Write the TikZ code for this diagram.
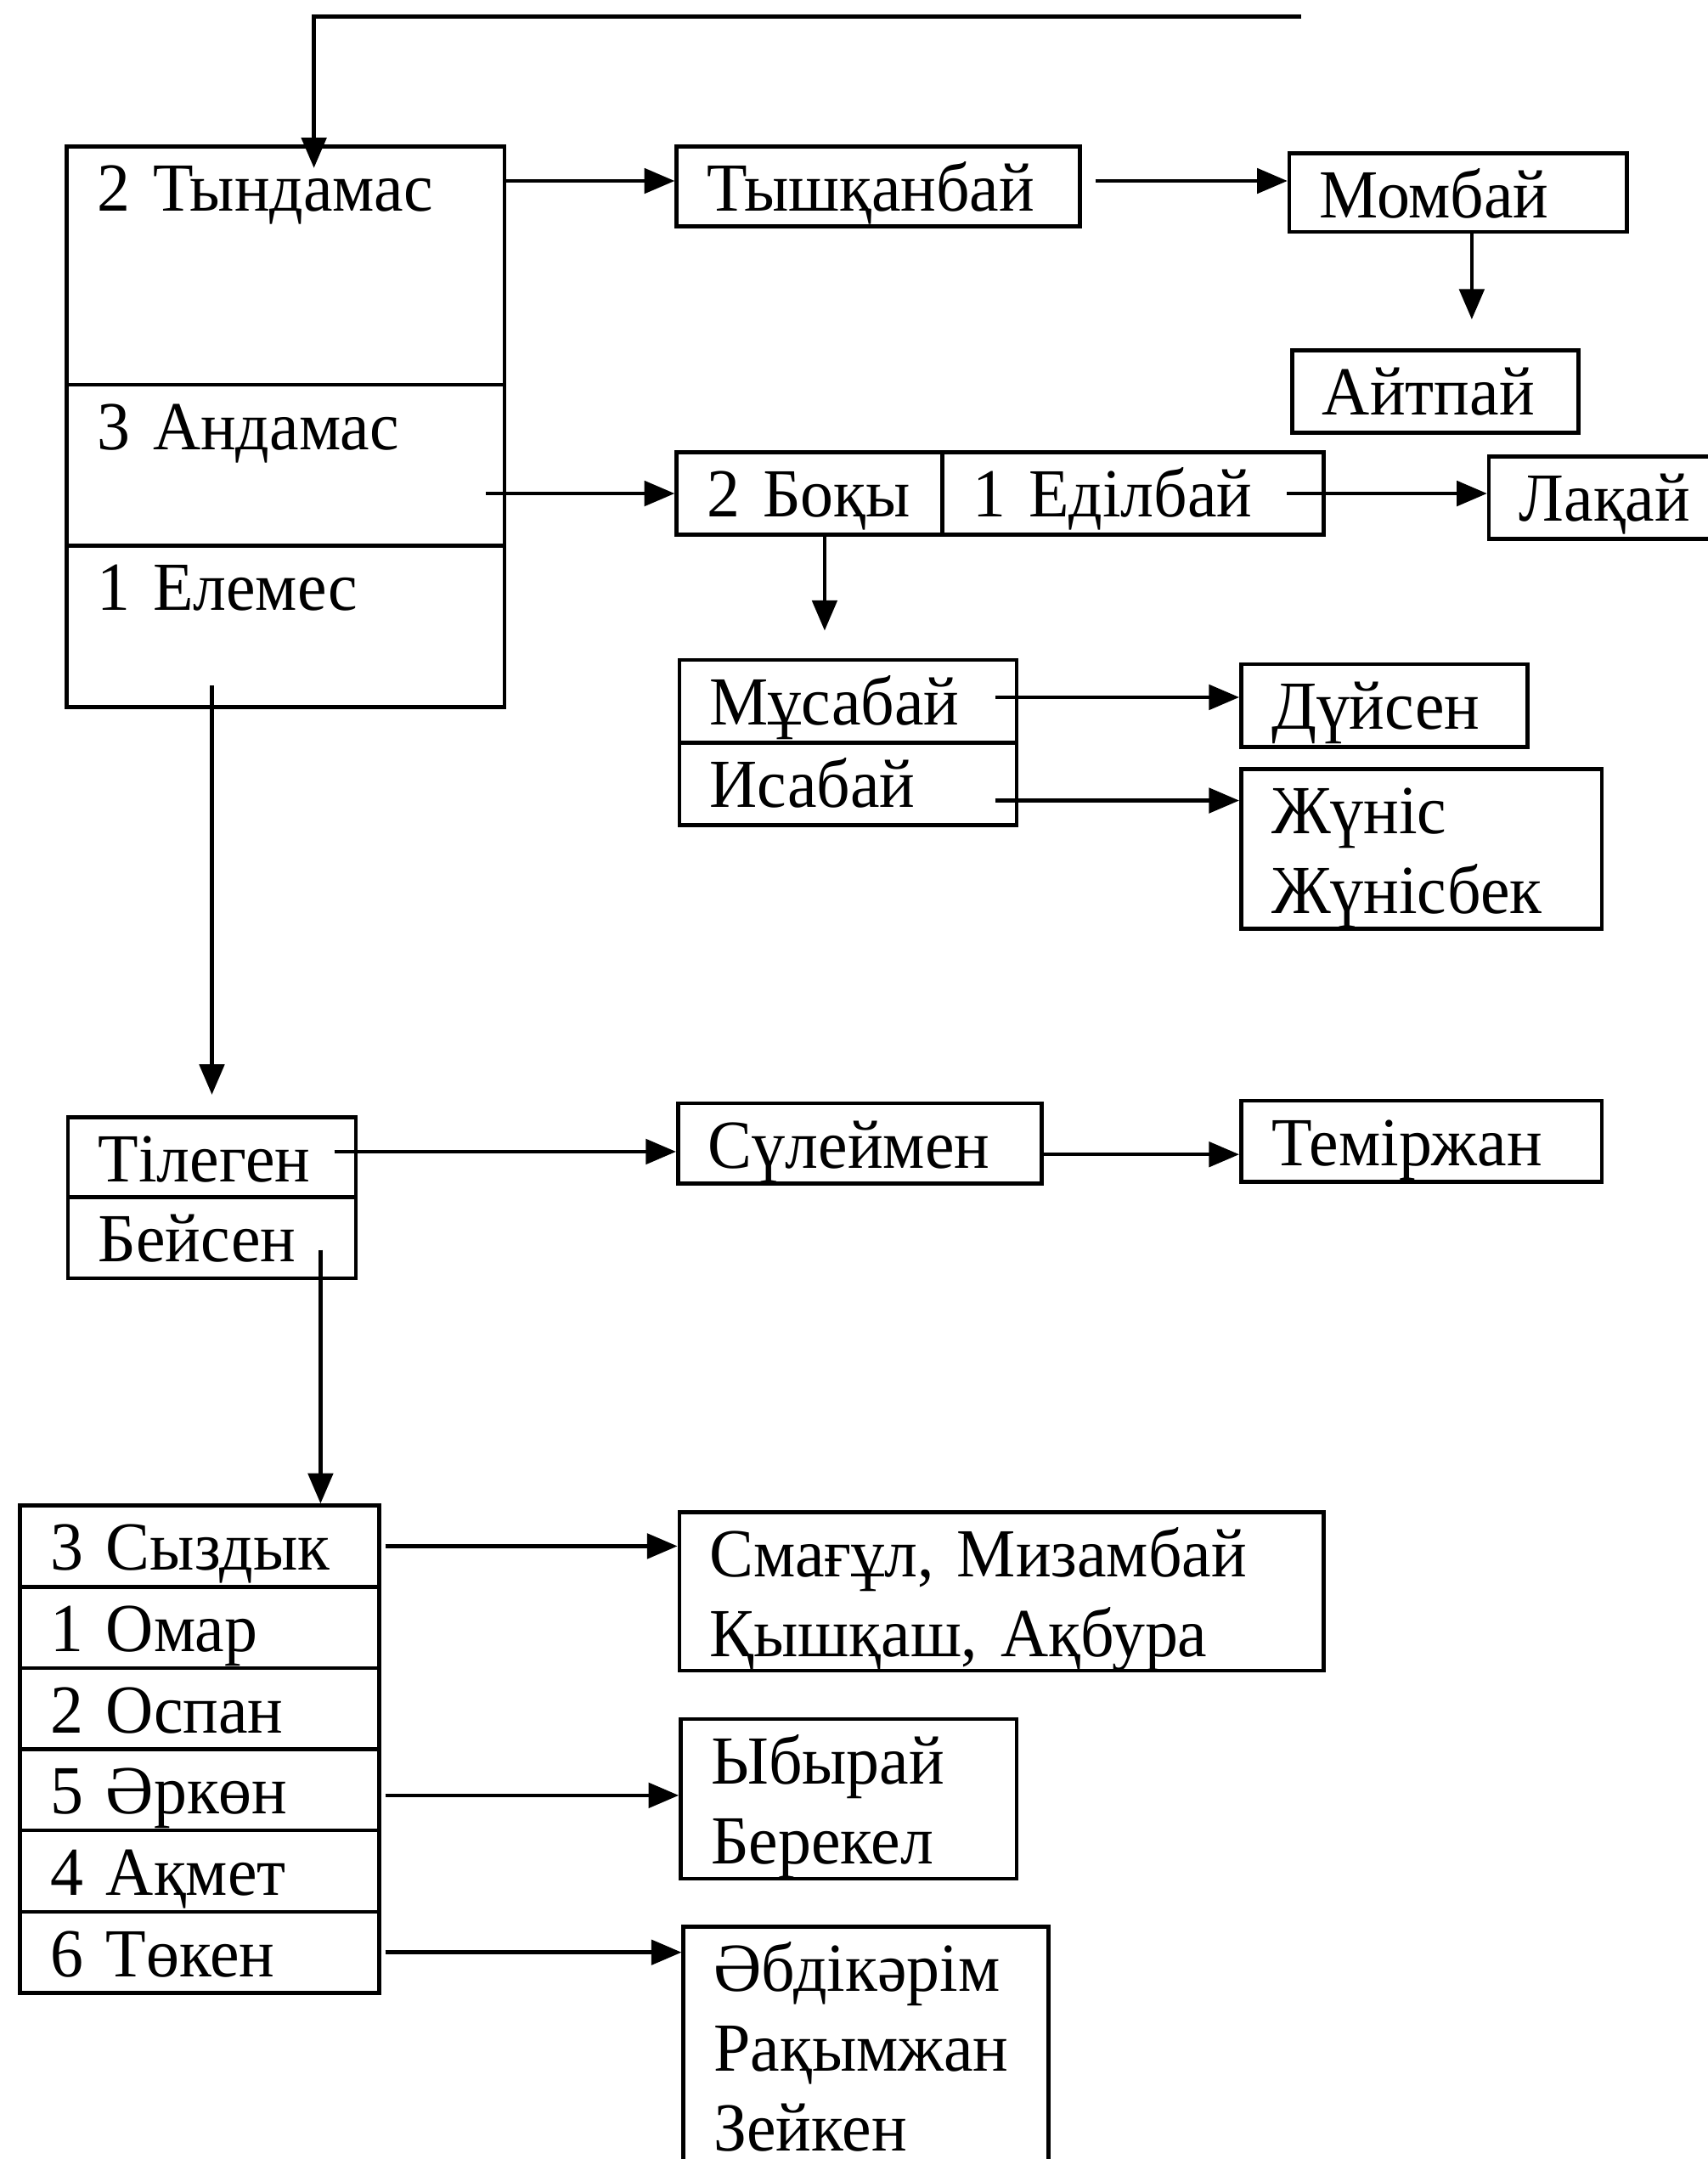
\documentclass[tikz,border=0pt]{standalone}
\usepackage{fontspec}
\setmainfont{Liberation Serif}[FakeStretch=0.96]
\usetikzlibrary{arrows.meta}

\newcommand{\namefont}{\fontsize{50}{58}\selectfont}

\tikzset{
  namebox/.style={draw, line width=2.8pt, anchor=north west, inner xsep=22pt,
    inner ysep=0pt, text height=47pt, font=\namefont, align=left},
}

\begin{document}
\begin{tikzpicture}[x=1pt, y=-1pt, line width=2.8pt, >={Triangle[length=22pt,width=18pt]}]
    \useasboundingbox (0,0) rectangle (1240,1568);

    % first generation
    \node[namebox, text width=274pt, text depth=126pt] (tyn) at (47,105) {2 Тындамас};
    \node[namebox, text width=274pt, text depth=70pt] (and) at (47,278) {3 Андамас};
    \node[namebox, text width=274pt, text depth=70pt] (ele) at (47,395) {1 Елемес};

    \coordinate (topR) at (945,12);
    \coordinate (topL) at (228,12);
    \draw[->, shorten >=-17pt] (topR) -- (topL) -- (topL |- tyn.north);

    % Тындамас line
    \node[namebox, text width=249pt, text depth=11pt] (tysh) at (490,105) {Тышқанбай};
    \node[namebox, text width=201pt, text depth=10pt] (momb) at (935,110) {Момбай};
    \node[namebox, text width=164pt, text depth=13pt] (aitp) at (937,253) {Айтпай};

    \draw[->] ([yshift=4pt]tyn.east |- tysh.west) -- ([yshift=4pt]tysh.west);
    \draw[->] ([xshift=10pt,yshift=4pt]tysh.east) -- ([yshift=4pt]tysh.east -| momb.west);
    \draw[->, shorten >=21pt] ([xshift=10pt]momb.south) -- ([xshift=10pt]momb.south |- aitp.north);

    % Андамас line
    \node[namebox, text width=149pt, text depth=13pt] (boky) at (490,327) {2~Боқы};
    \node[namebox, text width=233pt, text depth=13pt] (edil) at (683,327) {1 Еділбай};
    \node[namebox, text width=136pt, text depth=13pt] (lakai) at (1080,330) {Лақай};

    \draw[->] ([xshift=-15pt]and.east |- boky.west) -- (boky.west);
    \draw[->] ([xshift=-28pt]edil.east) -- (edil.east -| lakai.west);

    \node[namebox, text width=201pt, text depth=13pt] (musa) at (492,478) {Мұсабай};
    \node[namebox, text width=201pt, text depth=13pt] (isa) at (492,538) {Исабай};
    \node[namebox, text width=164pt, text depth=13pt] (duis) at (900,481) {Дүйсен};
    \node[namebox, text width=218pt, text depth=69pt] (zhun) at (900,557) {Жүніс\\Жүнісбек};

    \draw[->, shorten >=20pt] ([xshift=11pt]boky.south) -- ([xshift=11pt]boky.south |- musa.north);
    \draw[->] ([xshift=-17pt,yshift=3pt]musa.east) -- ([yshift=3pt]musa.east -| duis.west);
    \draw[->] ([xshift=-17pt,yshift=-12pt]isa.east) -- ([yshift=-12pt]isa.east -| zhun.west);

    % Елемес line
    \node[namebox, text width=165pt, text depth=11pt] (tileg) at (48,810) {Тілеген};
    \node[namebox, text width=165pt, text depth=12pt] (beis) at (48,868) {Бейсен};
    \node[namebox, text width=220pt, text depth=11pt] (sulei) at (491,800) {Сүлеймен};
    \node[namebox, text width=218pt, text depth=12pt] (temir) at (900,798) {Теміржан};

    \draw[->, shorten >=15pt] ([yshift=17pt]ele.south -| tileg.north) -- (tileg.north);
    \draw[->] ([xshift=-17pt,yshift=4pt]tileg.east) -- ([yshift=4pt]tileg.east -| sulei.west);
    \draw[->] ([yshift=-8pt]sulei.east) -- ([yshift=-8pt]sulei.east -| temir.west);

    % Бейсен's sons
    \node[namebox, text width=217pt, text depth=12pt] (syz) at (13,1092) {3 Сыздык};
    \node[namebox, text width=217pt, text depth=12pt] (omar) at (13,1151) {1 Омар};
    \node[namebox, text width=217pt, text depth=12pt] (ospan) at (13,1210) {2 Оспан};
    \node[namebox, text width=217pt, text depth=12pt] (ark) at (13,1269) {5 Әркөн};
    \node[namebox, text width=217pt, text depth=12pt] (akmet) at (13,1328) {4 Ақмет};
    \node[namebox, text width=217pt, text depth=12pt] (tok) at (13,1387) {6 Төкен};

    \draw[->] ([xshift=-27pt,yshift=22pt]beis.south east) -- ([xshift=-27pt]beis.south east |- syz.north);

    \node[namebox, text width=424pt, text depth=68pt] (smag) at (492,1097) {Смағұл, Мизамбай\\Қышқаш, Ақбура};
    \node[namebox, text width=200pt, text depth=69pt] (ybyr) at (493,1247) {Ыбырай\\Берекел};
    \node[namebox, text width=221pt, text depth=127pt] (abdi) at (495,1398) {Әбдікәрім\\Рақымжан\\Зейкен};

    \draw[->] ([xshift=3pt]syz.east) -- (syz.east -| smag.west);
    \draw[->] ([xshift=3pt,yshift=-4pt]ark.east) -- ([yshift=-4pt]ark.east -| ybyr.west);
    \draw[->] ([xshift=3pt]tok.east) -- (tok.east -| abdi.west);
\end{tikzpicture}
\end{document}
